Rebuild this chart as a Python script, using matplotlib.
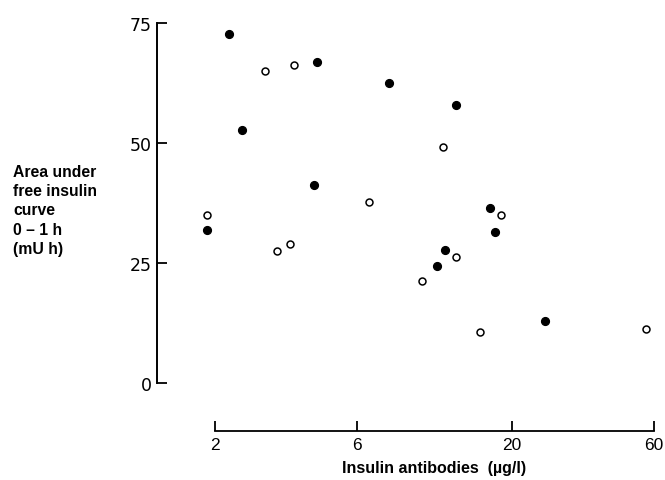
import matplotlib
matplotlib.use("Agg")
import matplotlib.pyplot as plt
from matplotlib.ticker import FixedLocator, NullLocator

# Data (x: insulin antibodies, log scale; y: area under curve)
filled_x = [2.23, 2.47, 4.41, 4.32, 1.88, 7.69, 12.9, 16.9, 17.5, 11.9, 11.2, 25.8]
filled_y = [72.8, 52.8, 66.9, 41.3, 31.9, 62.5, 57.9, 36.5, 31.4, 27.8, 24.4, 13.0]
open_x = [2.94, 3.68, 1.88, 11.7, 6.60, 18.3, 3.57, 3.24, 12.9, 9.96, 15.6, 56.4]
open_y = [65.0, 66.3, 35.1, 49.2, 37.8, 34.9, 29.0, 27.4, 26.3, 21.3, 10.6, 11.3]

x_ticks = [2, 6, 20, 60]
x_ticklabels = ["2", "6", "20", "60"]
y_ticks = [0, 25, 50, 75]
y_ticklabels = ["0", "25", "50", "75"]

plt.rcParams['font.family'] = ['Liberation Sans', 'DejaVu Sans']

fig = plt.figure(figsize=(6.65, 4.81), dpi=100)
W, H = 665, 481
left, right, top, bottom = 157, 654, 24, 384
ax = fig.add_axes([left / W, (H - bottom) / H, (right - left) / W, (bottom - top) / H])

ax.plot(filled_x, filled_y, 'o', color='black', markersize=5.6, clip_on=False, zorder=3)
ax.plot(open_x, open_y, 'o', markerfacecolor='white', markeredgecolor='black',
        markersize=5.0, markeredgewidth=1.1, clip_on=False, zorder=3)

ax.set_xscale('log')
ax.set_xlim(1.276, 60)
ax.set_ylim(0, 75)

ax.xaxis.set_major_locator(FixedLocator(x_ticks))
ax.xaxis.set_minor_locator(NullLocator())
ax.set_xticklabels(x_ticklabels, family='DejaVu Sans')
ax.set_yticks(y_ticks)
ax.set_yticklabels(y_ticklabels, family='DejaVu Sans')

for s in ['top', 'right']:
    ax.spines[s].set_visible(False)
ax.spines['left'].set_linewidth(1.4)
ax.spines['left'].set_bounds(0, 75)
ax.spines['bottom'].set_linewidth(1.3)
ax.spines['bottom'].set_position(('outward', 48 * 0.72))
ax.spines['bottom'].set_bounds(2, 60)

ax.tick_params(axis='y', direction='in', length=7, width=1.3, pad=3.8, labelsize=12.5)
ax.tick_params(axis='x', direction='in', length=7.2, width=1.3, pad=4.2, labelsize=12.5)

ax.set_xlabel("Insulin antibodies  (\u00b5g/l)", fontsize=11.5, fontweight='bold')
ax.xaxis.set_label_coords((434 - left) / (right - left), (bottom - 469) / (bottom - top))
ax.xaxis.label.set_va('center')
ax.set_ylabel("Area under\nfree insulin\ncurve\n0 \u2013 1 h\n(mU h)", rotation=0,
              ha='left', va='center', fontsize=11.3, fontweight='bold', linespacing=1.37)
ax.yaxis.set_label_coords((13 - left) / (right - left), (bottom - 211) / (bottom - top))

fig.savefig("out.png", dpi=100)
